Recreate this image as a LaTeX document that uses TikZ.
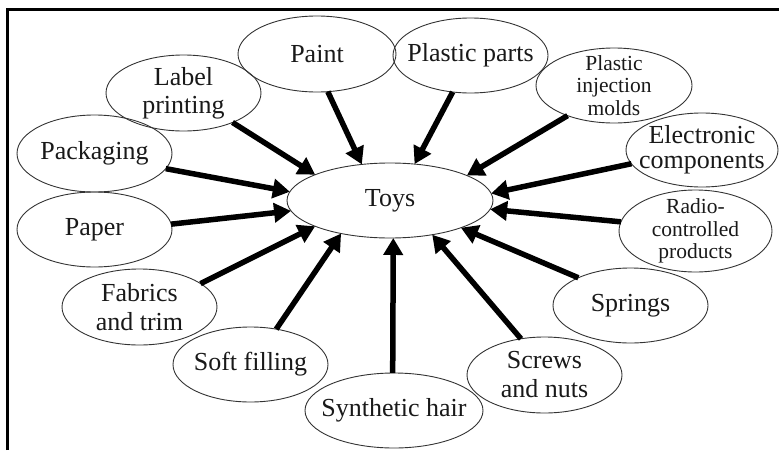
\documentclass[tikz,border=0pt]{standalone}
\usepackage{fontspec}
\setmainfont{Liberation Serif}
\usetikzlibrary{shapes.geometric,arrows.meta}
\begin{document}
\begin{tikzpicture}[x=1pt,y=-1pt,
  oval/.style={draw=black!80, line width=0.9pt, ellipse, inner sep=0pt, outer sep=0pt},
  big/.style={font=\fontsize{26}{28}\selectfont, text=black!90, align=center, inner sep=0pt},
  small/.style={font=\fontsize{21.5}{22.5}\selectfont, text=black!90, align=center, inner sep=0pt},
  feed/.style={line width=5.5pt, -{Triangle[length=17pt,width=19pt]}},
  frameline/.style={line width=2.8pt}]
\useasboundingbox (0,0) rectangle (779,450);
\draw[frameline] (7.2,450) -- (7.2,9.5) -- (779,9.5);

% ovals
\node[oval, minimum width=206pt, minimum height=75pt] (toys) at (390,200.5) {};
\node[oval, minimum width=158pt, minimum height=76pt] (paint) at (317,54) {};
\node[oval, minimum width=155pt, minimum height=75pt] (parts) at (470.5,55.5) {};
\node[oval, minimum width=156pt, minimum height=75pt] (molds) at (614,85.5) {};
\node[oval, minimum width=152pt, minimum height=74pt] (elec) at (702,150) {};
\node[oval, minimum width=153pt, minimum height=82pt] (radio) at (695.5,231) {};
\node[oval, minimum width=155pt, minimum height=75pt] (springs) at (630.5,305.5) {};
\node[oval, minimum width=155pt, minimum height=76pt] (screws) at (544.5,375) {};
\node[oval, minimum width=178pt, minimum height=75pt] (hair) at (394,410.5) {};
\node[oval, minimum width=155pt, minimum height=75pt] (soft) at (250.5,364.5) {};
\node[oval, minimum width=155pt, minimum height=76pt] (fabrics) at (139.5,307) {};
\node[oval, minimum width=155pt, minimum height=75pt] (paper) at (94.5,229.5) {};
\node[oval, minimum width=155pt, minimum height=77pt] (packaging) at (94.5,153.5) {};
\node[oval, minimum width=155pt, minimum height=76pt] (label) at (183.5,93) {};

% texts
\node[big] (toys-t) at (toys) {Toys};
\node[big] (paint-t) at (paint) {Paint};
\node[big] (parts-t) at (parts) {Plastic parts};
\node[small] (molds-t) at (molds) {Plastic\\injection\\molds};
\node[big, font=\fontsize{26}{25}\selectfont] (elec-t) at (elec) {Electronic\\components};
\node[small] (radio-t) at (radio) {Radio-\\controlled\\products};
\node[big] (springs-t) at (springs) {Springs};
\node[big, font=\fontsize{26}{29}\selectfont] (screws-t) at (screws) {Screws\\and nuts};
\node[big] (hair-t) at (hair) {Synthetic hair};
\node[big] (soft-t) at (soft) {Soft filling};
\node[big, font=\fontsize{26}{29}\selectfont] (fabrics-t) at (fabrics) {Fabrics\\and trim};
\node[big] (paper-t) at (paper) {Paper};
\node[big] (packaging-t) at (packaging) {Packaging};
\node[big] (label-t) at (label) {Label\\printing};

% arrows
\draw[feed] (label.-31) -- (toys.161);
\draw[feed] (paint.-74) -- (toys.128);
\draw[feed] (parts.-116) -- (toys.56);
\draw[feed] (molds.213.6) -- (toys.18.3);
\draw[feed] (elec.191.5) -- (toys.4);
\draw[feed] (radio.173) -- (toys.-5.3);
\draw[feed] (springs.152.8) -- (toys.-21.6);
\draw[feed] (screws.123.5) -- (toys.-39.8);
\draw[feed] (hair.92) -- (toys.-85);
\draw[feed] (soft.54.8) -- (toys.214);
\draw[feed] (fabrics.21.6) -- (toys.199.7);
\draw[feed] (paper.4.9) -- (toys.186);
\draw[feed] (packaging.-12.4) -- (toys.175.2);
\end{tikzpicture}
\end{document}
